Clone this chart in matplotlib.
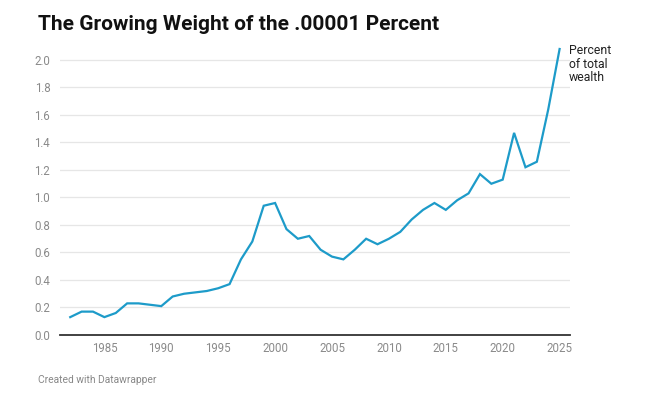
import matplotlib.pyplot as plt

plt.rcParams['font.family'] = ['Roboto', 'DejaVu Sans']

years = list(range(1982, 2026))
share = [0.13, 0.17, 0.17, 0.13, 0.16, 0.23, 0.23, 0.22, 0.21, 0.28,
         0.30, 0.31, 0.32, 0.34, 0.37, 0.55, 0.68, 0.94, 0.96, 0.77,
         0.70, 0.72, 0.62, 0.57, 0.55, 0.62, 0.70, 0.66, 0.70, 0.75,
         0.84, 0.91, 0.96, 0.91, 0.98, 1.03, 1.17, 1.10, 1.13, 1.47,
         1.22, 1.26, 1.64, 2.08]
yticks = [0.0, 0.2, 0.4, 0.6, 0.8, 1.0, 1.2, 1.4, 1.6, 1.8, 2.0]
xticks = [1985, 1990, 1995, 2000, 2005, 2010, 2015, 2020, 2025]

fig = plt.figure(figsize=(6.55, 4.0), dpi=100)
ax = fig.add_axes([0.0916, 0.1625, 0.7784, 0.7219])

# light horizontal gridlines
for yt in yticks[1:]:
    ax.axhline(yt, color='#e6e6e6', lw=0.9, zorder=0)
ax.plot(years, share, color='#1d9bc9', lw=1.6, solid_joinstyle='miter', zorder=3)

ax.set_xlim(1981.1, 2025.9)
ax.set_ylim(0, 2.1)
ax.set_yticks(yticks)
ax.set_yticklabels([f'{v:.1f}' for v in yticks])
ax.set_xticks(xticks)
ax.tick_params(length=0, labelsize=8.3, labelcolor='#8a8a8a')
ax.tick_params(axis='y', pad=7)
ax.tick_params(axis='x', pad=5)
for s in ['top', 'right', 'left']:
    ax.spines[s].set_visible(False)
ax.spines['bottom'].set_color('#333333')
ax.spines['bottom'].set_linewidth(1.3)

fig.text(569 / 655, 1 - 44 / 400, 'Percent\nof total\nwealth', ha='left', va='top',
         fontsize=8.8, color='#222222', linespacing=1.05)

fig.text(38 / 655, 1 - 30 / 400, 'The Growing Weight of the .00001 Percent',
         fontsize=15, fontweight='bold', color='#111111', ha='left', va='baseline')
fig.text(38 / 655, 1 - 383 / 400, 'Created with Datawrapper',
         fontsize=7.4, color='#888888', ha='left', va='baseline')

fig.savefig('out.png', dpi=100)
